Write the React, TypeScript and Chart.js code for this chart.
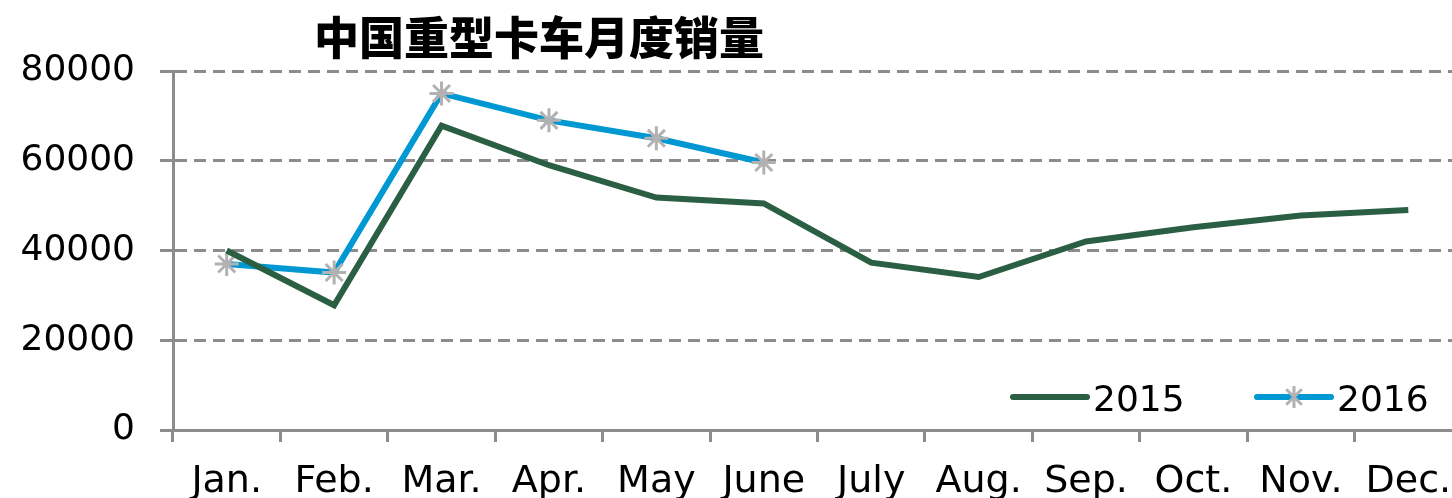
import React, { useEffect, useRef } from 'react';
import { Chart, registerables } from 'chart.js';

Chart.register(...registerables);

const titleText = '中国重型卡车月度销量';
const categories = ['Jan.', 'Feb.', 'Mar.', 'Apr.', 'May', 'June', 'July', 'Aug.', 'Sep.', 'Oct.', 'Nov.', 'Dec.'];
const sales2015 = [40000, 27800, 67800, 59000, 51800, 50500, 37300, 34100, 42000, 45200, 47800, 49000];
const sales2016 = [37000, 35100, 75000, 69000, 65000, 59600];
const yTicks = [0, 20000, 40000, 60000, 80000];
const seriesNames = ['2015', '2016'];

const FONT = '"DejaVu Sans", Verdana, sans-serif';
const GREEN = '#2a5f43';
const BLUE = '#0098d2';
const MARK = '#b2b2b2';
const AXIS = '#8c8c8c';

function drawStar(ctx: CanvasRenderingContext2D, x: number, y: number, r: number) {
  ctx.save();
  ctx.strokeStyle = MARK;
  ctx.lineWidth = 3;
  ctx.lineCap = 'butt';
  ctx.beginPath();
  ctx.moveTo(x, y - r);
  ctx.lineTo(x, y + r);
  const d = r * Math.SQRT1_2;
  ctx.moveTo(x - d, y - d);
  ctx.lineTo(x + d, y + d);
  ctx.moveTo(x + d, y - d);
  ctx.lineTo(x - d, y + d);
  ctx.stroke();
  ctx.restore();
}

export default function App() {
  const ref = useRef<HTMLCanvasElement>(null);
  useEffect(() => {
    document.body.style.margin = '0';
    document.body.style.overflow = 'hidden';
    const canvas = ref.current;
    if (!canvas) return;

    const titlePlugin = {
      id: 'customTitle',
      afterDraw(chart: any) {
        const ctx = chart.ctx as CanvasRenderingContext2D;
        ctx.save();
        ctx.font = '900 45px "Noto Sans CJK SC"';
        ctx.fillStyle = '#000';
        ctx.textAlign = 'center';
        ctx.textBaseline = 'middle';
        ctx.fillText(titleText, 539, 38);
        ctx.restore();
      },
    };

    const legendPlugin = {
      id: 'customLegend',
      afterDraw(chart: any) {
        const ctx = chart.ctx as CanvasRenderingContext2D;
        const items = [
          { x: 1013, color: GREEN, star: false, label: seriesNames[0] },
          { x: 1257, color: BLUE, star: true, label: seriesNames[1] },
        ];
        const y = 397;
        ctx.save();
        items.forEach((it) => {
          ctx.strokeStyle = it.color;
          ctx.lineWidth = 6;
          ctx.lineCap = 'round';
          ctx.beginPath();
          ctx.moveTo(it.x, y);
          ctx.lineTo(it.x + 74, y);
          ctx.stroke();
          if (it.star) drawStar(ctx, it.x + 37, y, 11);
          ctx.font = '36px ' + FONT;
          ctx.fillStyle = '#000';
          ctx.textAlign = 'left';
          ctx.textBaseline = 'alphabetic';
          ctx.fillText(it.label, it.x + 80, 411);
        });
        ctx.restore();
      },
    };

    const chart = new Chart(canvas, {
      type: 'line',
      data: {
        labels: categories,
        datasets: [
          {
            label: seriesNames[0],
            data: sales2015,
            borderColor: GREEN,
            backgroundColor: GREEN,
            borderWidth: 6,
            pointRadius: 0,
            tension: 0,
          },
          {
            label: seriesNames[1],
            data: sales2016,
            borderColor: BLUE,
            backgroundColor: BLUE,
            borderWidth: 6,
            pointStyle: 'star',
            pointRadius: 12,
            pointBorderColor: MARK,
            pointBorderWidth: 3,
            tension: 0,
          },
        ],
      },
      options: {
        animation: false,
        responsive: false,
        maintainAspectRatio: false,
        layout: { padding: { top: 71, right: 0, left: 0, bottom: 0 } },
        plugins: {
          legend: { display: false },
          title: { display: false },
          tooltip: { enabled: false },
        },
        scales: {
          x: {
            type: 'category',
            offset: true,
            afterFit(scale: any) {
              scale.height = 68;
            },
            grid: {
              offset: true,
              drawOnChartArea: false,
              drawTicks: true,
              tickLength: 12,
              tickWidth: 3,
              tickColor: AXIS,
            },
            border: { display: true, color: AXIS, width: 3 },
            ticks: {
              font: { family: FONT, size: 38 },
              color: '#000',
              padding: 17,
              maxRotation: 0,
              autoSkip: false,
            },
          },
          y: {
            min: 0,
            max: 80000,
            afterFit(scale: any) {
              scale.width = 173;
            },
            afterBuildTicks(scale: any) {
              scale.ticks = yTicks.map((v) => ({ value: v }));
            },
            grid: {
              color: AXIS,
              lineWidth: 3,
              tickLength: 13,
              tickColor: AXIS,
              tickWidth: 3,
              tickBorderDash: [],
            },
            border: { display: true, color: AXIS, width: 3, dash: [12, 7] },
            ticks: {
              font: { family: FONT, size: 36 },
              color: '#000',
              padding: 25,
              callback: (v: any) => String(v),
            },
          },
        },
      },
      plugins: [titlePlugin, legendPlugin],
    } as any);
    return () => chart.destroy();
  }, []);

  return (
    <div style={{ width: 1452, height: 498, overflow: 'hidden', position: 'relative' }}>
      <canvas ref={ref} width={1477} height={498} style={{ width: 1477, height: 498, display: 'block' }} />
    </div>
  );
}
